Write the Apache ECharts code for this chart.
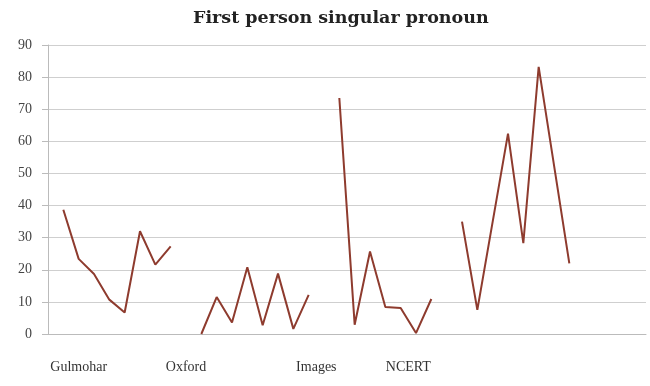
<!DOCTYPE html>
<html>
<head>
<meta charset="utf-8">
<script src="https://cdn.jsdelivr.net/npm/echarts@6/dist/echarts.min.js"></script>
<style>
  html, body { margin: 0; padding: 0; background: #fff; }
  #chart { width: 650px; height: 386px; }
</style>
</head>
<body>
<div id="chart"></div>
<script>
// values, one array per textbook
var gulmohar = [38.7, 23.4, 18.7, 10.7, 6.7, 32, 21.6, 27.3];
var oxford = [0, 11.5, 3.6, 20.8, 2.7, 18.8, 1.6, 12.2];
var images = [73.5, 2.9, 25.7, 8.4, 8.1, 0.3, 10.9];
var ncert = [35, 7.5, null, 62.4, 28.3, 83.2, null, 22];
// first category slot of each group
var groupStart = [1, 10, 19, 27];
var groupNames = ['Gulmohar', 'Oxford', 'Images', 'NCERT'];
// label slots on the half-step label axis
var labelSlots = [4, 18, 35, 47];
var slotCount = 40;
var yTicks = [0, 90, 10];

var groups = [gulmohar, oxford, images, ncert];
var cats = [];
for (var i = 0; i < slotCount; i++) cats.push(String(i));
var halfCats = [];
for (var h = 0; h < slotCount * 2 - 1; h++) {
	var idx = labelSlots.indexOf(h);
	halfCats.push(idx >= 0 ? groupNames[idx] : '');
}

var series = groups.map(function(vals, g) {
	var d = [];
	for (var i = 0; i < slotCount; i++) d.push(null);
	for (var j = 0; j < vals.length; j++) d[groupStart[g] + j] = vals[j];
	return {
		name: groupNames[g],
		type: 'line',
		xAxisIndex: 0,
		data: d,
		symbol: 'none',
		connectNulls: true,
		lineStyle: { color: '#8e3b2e', width: 2 },
		itemStyle: { color: '#8e3b2e' }
	};
});

var chart = echarts.init(document.getElementById('chart'));
chart.setOption({
	animation: false,
	title: {
		text: 'First person singular pronoun',
		left: 188,
		top: 4,
		textStyle: {
			fontFamily: 'DejaVu Serif',
			fontWeight: 'bold',
			fontSize: 17.5,
			color: '#222'
		}
	},
	grid: { left: 48, right: 4, top: 45, bottom: 52 },
	xAxis: [{
		type: 'category',
		data: cats,
		boundaryGap: false,
		axisLine: { lineStyle: { color: '#bbb', width: 1 } },
		axisTick: { show: false },
		axisLabel: { show: false },
		splitLine: { show: false }
	}, {
		type: 'category',
		data: halfCats,
		boundaryGap: false,
		position: 'bottom',
		axisLine: { show: false },
		axisTick: { show: false },
		splitLine: { show: false },
		axisLabel: {
			interval: 0,
			margin: 26,
			fontFamily: 'Liberation Serif',
			fontSize: 14,
			color: '#333'
		}
	}],
	yAxis: {
		type: 'value',
		min: yTicks[0],
		max: yTicks[1],
		interval: yTicks[2],
		axisLine: { show: true, lineStyle: { color: '#bbb', width: 1 } },
		axisTick: { show: true, length: 6, lineStyle: { color: '#bbb' } },
		axisLabel: {
			margin: 16,
			fontFamily: 'Liberation Serif',
			fontSize: 14,
			color: '#444'
		},
		splitLine: { lineStyle: { color: '#cfcfcf', width: 1 } }
	},
	series: series
});
</script>
</body>
</html>
